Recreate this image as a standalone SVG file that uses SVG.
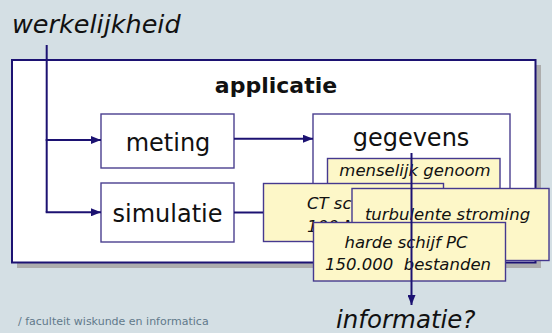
<svg xmlns="http://www.w3.org/2000/svg" width="552" height="333" viewBox="0 0 552 333">
  <defs>
    <style>
      .txt { font-family: "DejaVu Sans", "Liberation Sans", sans-serif; fill: #111; }
      .it { font-style: italic; }
      .box { fill: #ffffff; stroke: #4a3f8f; stroke-width: 1.4; }
      .note { fill: #fdf7c8; stroke: #45398f; stroke-width: 1.4; }
      .conn { fill: none; stroke: #1c1272; stroke-width: 2; }
    </style>
    <marker id="arrow" viewBox="0 0 10 8" refX="10" refY="4" markerWidth="10" markerHeight="8" markerUnits="userSpaceOnUse" orient="auto">
      <path d="M0,0 L10,4 L0,8 Z" fill="#1c1272"/>
    </marker>
  </defs>

  <rect x="0" y="0" width="552" height="333" fill="#d4dfe4"/>

  <g id="werkelijkheid">
    <text class="txt it" x="12" y="33" font-size="25.5">werkelijkheid</text>
  </g>

  <g id="applicatie">
    <rect x="17" y="65" width="524" height="203" fill="#adadad"/>
    <rect x="12" y="60" width="523.5" height="202.5" fill="#ffffff" stroke="#1c1272" stroke-width="2"/>
    <text class="txt" x="276" y="93" font-size="22" font-weight="bold" text-anchor="middle">applicatie</text>
  </g>

  <g id="meting">
    <rect class="box" x="101" y="114" width="133" height="54"/>
    <text class="txt" x="168" y="151" font-size="24" text-anchor="middle">meting</text>
  </g>

  <g id="simulatie">
    <rect class="box" x="101" y="183" width="133" height="59"/>
    <text class="txt" x="167.5" y="222" font-size="24" text-anchor="middle">simulatie</text>
  </g>

  <g id="gegevens">
    <rect class="box" x="313" y="114" width="197" height="128"/>
    <text class="txt" x="411" y="146" font-size="24" text-anchor="middle">gegevens</text>
  </g>

  <g id="note-genoom">
    <rect class="note" x="327.5" y="158.5" width="172.5" height="45"/>
    <text class="txt it" x="415" y="176" font-size="16.5" text-anchor="middle">menselijk genoom</text>
  </g>

  <g id="note-ct">
    <rect class="note" x="263.5" y="183.5" width="180" height="58"/>
    <text class="txt it" x="307" y="208.5" font-size="16.5">CT scan</text>
    <text class="txt it" x="307" y="231.5" font-size="16.5">100 MB</text>
  </g>

  <g id="note-turbulent">
    <rect class="note" x="352" y="188.5" width="197" height="72"/>
    <text class="txt it" x="447.5" y="220" font-size="16.5" text-anchor="middle">turbulente stroming</text>
  </g>

  <g id="note-harde-schijf">
    <rect class="note" x="313.5" y="222.5" width="192" height="58.5"/>
    <text class="txt it" x="406" y="247.5" font-size="16.5" text-anchor="middle">harde schijf PC</text>
    <text class="txt it" x="408" y="270" font-size="16.5" text-anchor="middle" xml:space="preserve">150.000  bestanden</text>
  </g>

  <g id="informatie">
    <text class="txt it" x="336" y="328" font-size="24.5">informatie?</text>
  </g>

  <g id="footer">
    <text x="18" y="325" font-family="DejaVu Sans, sans-serif" font-size="11" fill="#61798a">/ faculteit wiskunde en informatica</text>
  </g>

  <g id="connectors">
    <path class="conn" d="M46.7,45 V212.3"/>
    <path class="conn" d="M45.7,140 H101" marker-end="url(#arrow)"/>
    <path class="conn" d="M45.7,212.3 H101" marker-end="url(#arrow)"/>
    <path class="conn" d="M234,138.7 H313" marker-end="url(#arrow)"/>
    <path class="conn" d="M234,212.5 H263"/>
    <path class="conn" d="M411.5,153 V305" marker-end="url(#arrow)"/>
  </g>
</svg>
